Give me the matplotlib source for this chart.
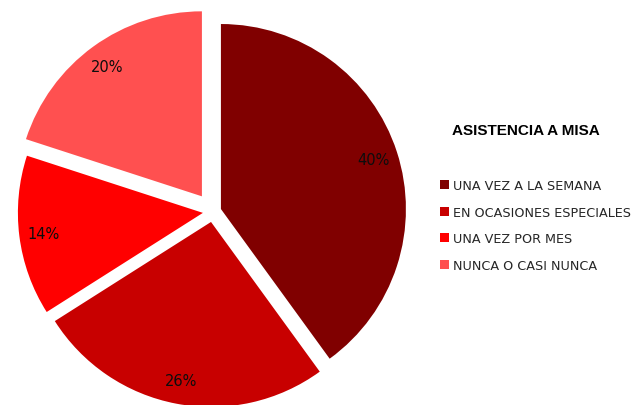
import matplotlib
matplotlib.use("Agg")
import matplotlib.pyplot as plt

categorias = ["UNA VEZ A LA SEMANA", "EN OCASIONES ESPECIALES", "UNA VEZ POR MES", "NUNCA O CASI NUNCA"]
valores = [40, 26, 14, 20]
colores = ["#800000", "#C80000", "#FF0000", "#FF5050"]
titulo = "ASISTENCIA A MISA"
separacion = [0.045, 0.057, 0.055, 0.102]

fig = plt.figure(figsize=(6.38, 4.06), dpi=100)

# pie centre ~ (213, 212.6) px, radius ~185 px
r = 185
cx, cy = 213, 212.6
lim = 1.15
w = 2 * lim * r / 638
h = 2 * lim * r / 406
ax = fig.add_axes([cx / 638 - w / 2, (406 - cy) / 406 - h / 2, w, h])

wedges, texts, autotexts = ax.pie(valores, colors=colores, startangle=90, counterclock=False,
                                  explode=separacion, autopct="%.0f%%", pctdistance=0.87,
                                  textprops={"fontsize": 10.5, "color": "#0d0d0d"})
ax.set_xlim(-lim, lim)
ax.set_ylim(-lim, lim)
ax.set_aspect("equal")
ax.axis("off")

fig.text(452 / 638, 1 - 131 / 406, titulo, fontsize=11, fontweight="bold",
         family="Liberation Sans", va="center", ha="left", color="black")

fig.legend(wedges, categorias, loc="upper left", bbox_to_anchor=(434 / 638, 1 - 174 / 406),
           frameon=False, fontsize=9.2, handlelength=0.7, handleheight=0.7, handletextpad=0.3,
           labelspacing=1.05, borderpad=0, labelcolor="#262626")

fig.savefig("out.png", dpi=100)
